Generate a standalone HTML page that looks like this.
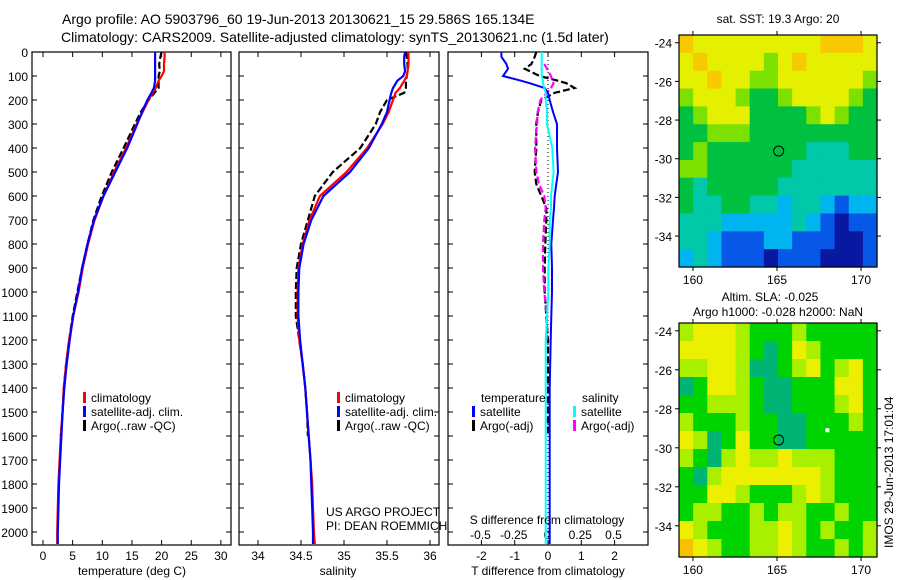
<!DOCTYPE html>
<html><head><meta charset="utf-8"><style>
html,body{margin:0;padding:0;background:#fff}
svg{display:block;font-family:"Liberation Sans",sans-serif}
</style></head><body>
<svg id="fig" width="900" height="580" viewBox="0 0 900 580">
<text x="62" y="24" font-size="14">Argo profile: AO 5903796_60 19-Jun-2013 20130621_15 29.586S 165.134E</text>
<text x="61" y="42" font-size="14">Climatology: CARS2009. Satellite-adjusted climatology: synTS_20130621.nc (1.5d later)</text>
<g id="p1"></g>
<g id="p2"></g>
<g id="p3"></g>
<g id="m1"></g>
<g id="m2"></g>
<text x="547" y="524" font-size="12" text-anchor="middle">S difference from climatology</text>
<text x="548" y="575" font-size="12" text-anchor="middle">T difference from climatology</text>
<text x="132" y="575" font-size="12" text-anchor="middle">temperature (deg C)</text>
<text x="338" y="575" font-size="12" text-anchor="middle">salinity</text>
<text x="326" y="516" font-size="12">US ARGO PROJECT</text>
<text x="326" y="530" font-size="12">PI: DEAN ROEMMICH</text>
<text x="778" y="23" font-size="12" text-anchor="middle">sat. SST: 19.3 Argo: 20</text>
<text x="770" y="301" font-size="12" text-anchor="middle">Altim. SLA: -0.025</text>
<text x="778" y="316" font-size="12" text-anchor="middle">Argo h1000: -0.028 h2000: NaN</text>
<text transform="translate(893,548) rotate(-90)" font-size="12">IMOS 29-Jun-2013 17:01:04</text>
</svg>
<script>
var NS="http://www.w3.org/2000/svg";
// ---- profile data ----
var depths=[0,20,50,80,100,120,150,170,200,250,300,400,500,600,700,800,900,1000,1100,1200,1300,1400,1500,1600,1700,1800,1900,2000,2050];
var tempClim=[20.5,20.5,20.4,20.4,20.0,19.5,19.0,18.5,17.8,16.8,15.8,14.0,12.0,10.2,8.7,7.6,6.7,6.0,5.1,4.4,3.9,3.5,3.3,3.0,2.8,2.6,2.5,2.4,2.4];
var tempSat=[18.9,18.9,18.9,18.9,18.9,18.9,18.7,18.3,17.6,16.7,15.9,14.2,12.2,10.2,8.6,7.5,6.6,5.9,5.1,4.5,4.0,3.6,3.3,3.1,2.9,2.7,2.6,2.5,2.5];
var tempArgo=[20.0,19.8,19.6,19.7,19.5,19.5,19.5,18.8,17.8,16.5,15.5,13.6,11.6,9.9,8.5,7.5,6.6,5.8,5.0,4.4,3.9,3.5,3.3,3.0,null,null,null,null,null];
var salClim=[35.75,35.75,35.75,35.74,35.73,35.7,35.65,35.6,35.57,35.52,35.45,35.27,35.03,34.72,34.6,34.52,34.47,34.46,34.46,34.48,34.52,34.55,34.57,34.59,34.61,34.63,34.64,34.65,34.66];
var salSat=[35.71,35.7,35.7,35.71,35.69,35.62,35.57,35.55,35.53,35.5,35.44,35.29,35.07,34.76,34.62,34.53,34.48,34.47,34.47,34.49,34.52,34.55,34.57,34.59,34.61,34.62,34.63,34.64,34.64];
var salArgo=[35.72,35.73,35.74,35.74,35.73,35.72,35.72,35.7,35.5,35.42,35.37,35.19,34.87,34.66,34.58,34.5,34.45,34.44,34.44,34.48,34.52,34.55,34.57,34.58,null,null,null,null,null];
var diffDepths=[0,20,50,70,100,120,130,150,170,200,250,300,400,500,550,600,650,700,800,900,1000,1100,1200,1400,1600,1800,2000,2050];
var tDiffSat=[-1.4,-1.4,-1.25,-1.2,-1.35,-0.8,-0.55,-0.1,0.0,0.05,0.15,0.27,0.27,0.3,0.25,0.2,0.18,0.15,0.1,0.12,0.12,0.1,0.08,0.05,0.05,0.05,0.05,0.05];
var tDiffArgo=[-0.35,-0.4,-0.5,-0.7,-0.25,0.3,0.55,0.8,0.2,-0.2,-0.3,-0.35,-0.35,-0.4,-0.35,-0.2,-0.05,-0.05,-0.08,-0.1,-0.1,-0.05,0,0,0,null,null,null];
var sDiffSat=[-0.04,-0.04,-0.04,-0.04,-0.04,-0.03,-0.03,-0.02,-0.01,-0.01,0,0,0.04,0.05,0.04,0.03,0.03,0.02,0.02,0.01,0.01,0.0,-0.01,-0.01,-0.01,-0.01,-0.01,-0.01];
var sDiffArgo=[null,null,-0.02,0,0.03,0.04,0.05,0.03,0,-0.05,-0.07,-0.075,-0.09,-0.08,-0.06,-0.02,-0.01,-0.02,-0.03,-0.03,-0.02,0,0,null,null,null,null,null];
var depthTicks=[0,100,200,300,400,500,600,700,800,900,1000,1100,1200,1300,1400,1500,1600,1700,1800,1900,2000];
var tempTicks=[0,5,10,15,20,25,30];
var salTicks=[34,34.5,35,35.5,36];
var salTickLabels=["34","34.5","35","35.5","36"];
var tDiffTicks=[-2,-1,0,1,2];
var sDiffTicks=[-0.5,-0.25,0,0.25,0.5];
var sDiffTickLabels=["-0.5","-0.25","0","0.25","0.5"];
// ---- map data (colour class per cell, rows north->south) ----
var sstGrid=[
[7,6,6,6,6,6,6,6,6,6,7,7,7,6],
[6,7,6,6,6,6,5,6,7,6,6,6,6,6],
[6,6,7,6,6,5,5,6,6,6,6,6,6,5],
[5,6,6,6,5,4,4,5,6,6,6,6,5,4],
[4,5,6,6,6,4,4,4,4,5,6,5,4,4],
[4,4,5,5,5,4,4,4,4,4,4,4,4,4],
[4,5,4,4,4,4,4,4,4,3,3,3,4,4],
[5,5,4,4,4,4,4,4,3,3,3,3,3,3],
[4,3,4,4,4,4,4,3,3,3,3,3,3,3],
[4,3,3,4,4,3,3,2,3,3,2,1,2,2],
[3,3,3,2,2,2,2,2,3,2,1,0,1,1],
[3,3,2,1,1,1,2,2,1,1,1,0,0,1],
[2,3,2,1,1,1,0,1,1,1,0,0,0,1]];
var slaGrid=[
[2,3,3,3,2,1,1,1,2,1,1,1,1,1],
[3,3,3,3,2,1,0,1,3,2,1,1,1,1],
[2,2,3,3,2,0,0,1,2,3,1,2,3,1],
[0,1,3,3,2,1,0,0,1,1,1,3,3,1],
[1,1,2,2,2,1,0,0,1,1,1,2,3,1],
[2,1,1,1,2,1,1,0,0,1,1,1,2,1],
[3,2,0,1,3,1,1,0,0,1,1,1,1,1],
[2,1,0,2,3,2,2,3,2,2,2,1,1,1],
[1,0,2,3,3,3,3,3,3,3,2,1,1,1],
[1,1,3,3,2,1,1,1,2,3,2,1,1,1],
[1,2,2,1,1,2,1,2,2,1,1,2,1,1],
[3,2,1,1,1,2,2,3,2,1,2,1,1,2],
[4,3,2,1,1,2,2,3,2,1,1,2,1,2]];
var sstColors=["#0818a0","#0858e8","#00b4f0","#00c8a8","#00c040","#7ce000","#e4f000","#f8c800"];
var slaColors=["#00b474","#00d400","#a8f000","#ecf000","#f8c000"];
var lonTicks=[160,165,170];
var latTicks=[-24,-26,-28,-30,-32,-34];
var floatLon=165.1, floatLat=-29.6;

function el(tag,attrs,parent,txt){var e=document.createElementNS(NS,tag);for(var k in attrs)e.setAttribute(k,attrs[k]);if(txt!==undefined)e.textContent=txt;parent.appendChild(e);return e;}
var Y0=52,Y1=545;
function yD(d){return Y0+d*0.24;}

function panel(g,x0,x1,xf,ticks,labels,name){
  for(var i=0;i<ticks.length;i++){
    var x=xf(ticks[i]);
    var t1=el('line',{x1:x,x2:x,y1:Y1,y2:Y1-5,stroke:'#000'},g);
    
    
    var t2=el('line',{x1:x,x2:x,y1:Y0,y2:Y0+5,stroke:'#000'},g);
    
    
    if(labels){
      var lb=el('text',{x:x,y:Y1+15,'font-size':12,'text-anchor':'middle'},g,labels[i]);
      
      
    }
  }
  for(var j=0;j<depthTicks.length;j++){
    var y=yD(depthTicks[j]);
    var a=el('line',{x1:x0,x2:x0+5,y1:y,y2:y,stroke:'#000'},g);
    
    
    var b=el('line',{x1:x1,x2:x1-5,y1:y,y2:y,stroke:'#000'},g);
    
    
  }
  var r=el('rect',{x:x0,y:Y0,width:x1-x0,height:Y1-Y0,fill:'none',stroke:'#000','stroke-width':1.2},g);
  
  
}
function series(g,dArr,vArr,xf,color,dash,name,w){
  var pts=[];
  for(var i=0;i<dArr.length;i++){ if(vArr[i]===null)continue; pts.push(xf(vArr[i]).toFixed(1)+','+yD(dArr[i]).toFixed(1)); }
  var p=el('polyline',{points:pts.join(' '),fill:'none',stroke:color,'stroke-width':w||2.2},g);
  if(dash)p.setAttribute('stroke-dasharray',dash);
  
  
}
function legendRow(g,x,y,color,label,name){
  var r=el('rect',{x:x,y:y-10,width:3,height:11,fill:color},g);
  
  
  var t=el('text',{x:x+8,y:y,'font-size':12},g,label);
  
  
}

// Temperature panel
var p1=document.getElementById('p1');
function xT(v){return 43+5.93*v;}
panel(p1,32,231,xT,tempTicks,tempTicks.map(String),'temperature');
for(var j=0;j<depthTicks.length;j++){
  var yl=el('text',{x:28,y:yD(depthTicks[j])+5,'font-size':12,'text-anchor':'end'},p1,String(depthTicks[j]));
  
  
}
series(p1,depths,tempArgo,xT,'#000','7,3','temp-argo-line');
series(p1,depths,tempClim,xT,'#f00',null,'temp-climatology-line');
series(p1,depths,tempSat,xT,'#00f',null,'temp-satellite-line');
legendRow(p1,83,402,'#f00','climatology','temp-legend-climatology');
legendRow(p1,83,416,'#00f','satellite-adj. clim.','temp-legend-satellite');
legendRow(p1,83,430,'#000','Argo(..raw -QC)','temp-legend-argo');

// Salinity panel
var p2=document.getElementById('p2');
function xS(v){return 258+86*(v-34);}
panel(p2,239,439,xS,salTicks,salTickLabels,'salinity');
series(p2,depths,salArgo,xS,'#000','7,3','sal-argo-line');
series(p2,depths,salClim,xS,'#f00',null,'sal-climatology-line');
series(p2,depths,salSat,xS,'#00f',null,'sal-satellite-line');
legendRow(p2,337,402,'#f00','climatology','sal-legend-climatology');
legendRow(p2,337,416,'#00f','satellite-adj. clim.','sal-legend-satellite');
legendRow(p2,337,430,'#000','Argo(..raw -QC)','sal-legend-argo');

// Difference panel
var p3=document.getElementById('p3');
function xdT(v){return 548+33.3*v;}
function xdS(v){return 547+133*v;}
panel(p3,448,648,xdT,tDiffTicks,tDiffTicks.map(String),'t-diff');
for(var k=0;k<sDiffTicks.length;k++){
  var sl=el('text',{x:xdS(sDiffTicks[k]),y:539,'font-size':12,'text-anchor':'middle'},p3,sDiffTickLabels[k]);
  
  
}
var zl=el('line',{x1:xdT(0),x2:xdT(0),y1:Y0,y2:Y1,stroke:'#000','stroke-dasharray':'1,3'},p3);


series(p3,diffDepths,tDiffArgo,xdT,'#000','7,3','t-diff-argo-line');
series(p3,diffDepths,sDiffArgo,xdS,'#f0f','7,3','s-diff-argo-line');
series(p3,diffDepths,tDiffSat,xdT,'#00f',null,'t-diff-satellite-line',2);
series(p3,diffDepths,sDiffSat,xdS,'#0ff',null,'s-diff-satellite-line',2);
var th=el('text',{x:481,y:402,'font-size':12},p3,'temperature');


var sh=el('text',{x:582,y:402,'font-size':12},p3,'salinity');


legendRow(p3,472,416,'#00f','satellite','legend-t-satellite');
legendRow(p3,472,430,'#000','Argo(-adj)','legend-t-argo');
legendRow(p3,573,416,'#0ff','satellite','legend-s-satellite');
legendRow(p3,573,430,'#f0f','Argo(-adj)','legend-s-argo');

// Maps
function map(g,top,bottom,grid,colors,name,markFill){
  var x0=679,x1=877,rows=grid.length,cols=grid[0].length;
  var cw=(x1-x0)/cols,ch=(bottom-top)/rows;
  for(var r=0;r<rows;r++)for(var c=0;c<cols;c++){
    var cell=el('rect',{x:(x0+c*cw).toFixed(2),y:(top+r*ch).toFixed(2),width:(cw+0.6).toFixed(2),height:(ch+0.6).toFixed(2),fill:colors[grid[r][c]]},g);
    
    
  }
  function lx(l){return x0+(l-159.17)*(x1-x0)/11.78;}
  function ly(l){return top+(-23.6-l)*(bottom-top)/12;}
  for(var i=0;i<lonTicks.length;i++){
    var x=lx(lonTicks[i]);
    el('line',{x1:x,x2:x,y1:top,y2:top-4,stroke:'#000'},g);
    el('line',{x1:x,x2:x,y1:bottom,y2:bottom+4,stroke:'#000'},g);
    var t=el('text',{x:x,y:bottom+17,'font-size':12,'text-anchor':'middle'},g,String(lonTicks[i]));
    
    
  }
  for(var j=0;j<latTicks.length;j++){
    var y=ly(latTicks[j]);
    el('line',{x1:x0,x2:x0-4,y1:y,y2:y,stroke:'#000'},g);
    el('line',{x1:x1,x2:x1+4,y1:y,y2:y,stroke:'#000'},g);
    var t2=el('text',{x:x0-7,y:y+5,'font-size':12,'text-anchor':'end'},g,String(latTicks[j]));
    
    
  }
  var fr=el('rect',{x:x0,y:top,width:x1-x0,height:bottom-top,fill:'none',stroke:'#000','stroke-width':1.2},g);
  
  
  var c=el('circle',{cx:lx(floatLon),cy:ly(floatLat),r:5,fill:'none',stroke:'#000','stroke-width':1},g);
  
  
  var m=el('rect',{x:lx(168)-2,y:ly(-29.1)-2,width:4,height:4,fill:markFill},g);
  
  
}
map(document.getElementById('m1'),35,267,sstGrid,sstColors,'sst-map','none');
map(document.getElementById('m2'),323,557,slaGrid,slaColors,'sla-map','#fff');
</script>
</body></html>
